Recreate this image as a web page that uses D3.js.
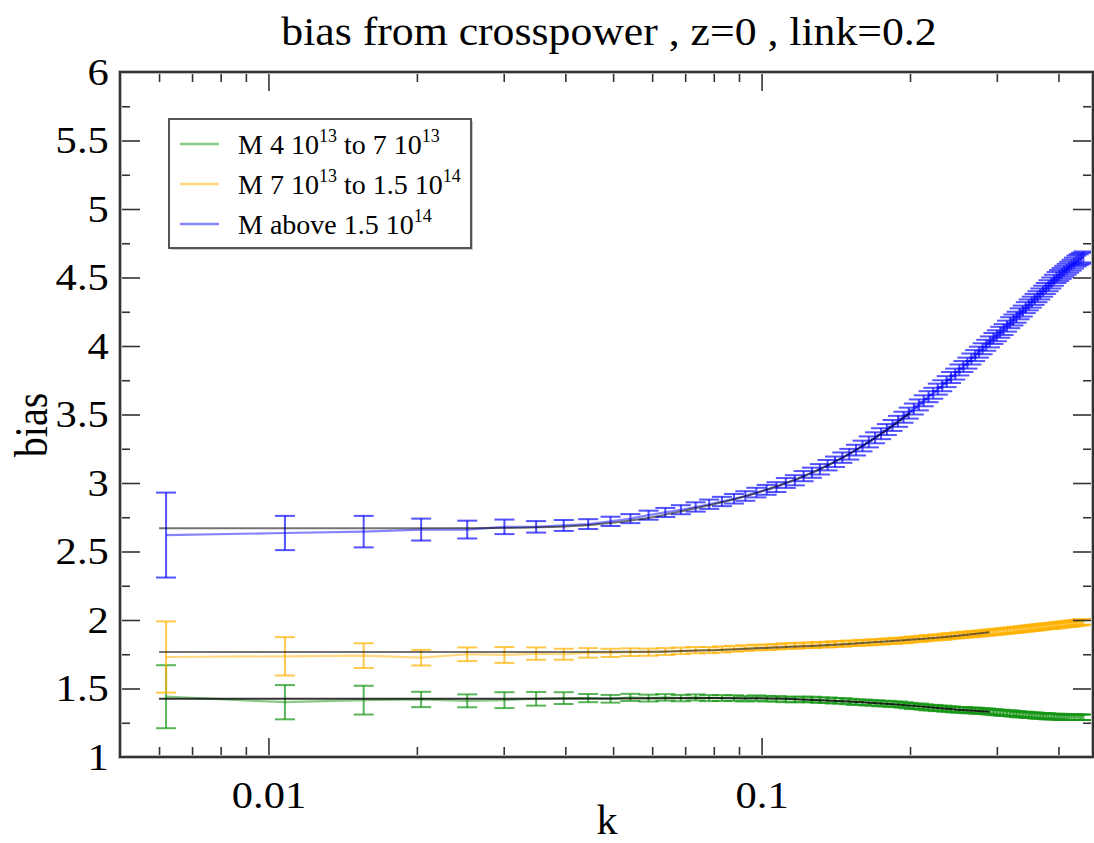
<!DOCTYPE html>
<html>
<head>
<meta charset="utf-8">
<script src="https://cdn.jsdelivr.net/npm/d3@7"></script>
<style>
  html, body { margin: 0; padding: 0; background: #fff; }
  svg { display: block; }
  text { font-family: "Liberation Serif", "DejaVu Serif", serif; fill: #000; }
</style>
</head>
<body>
<svg id="chart" width="1094" height="843"></svg>
<script>
// ---------------- data ----------------
const kValues = [0.0062,0.0108,0.0156,0.0204,0.0253,0.0301,0.0349,0.0397,0.0445,0.0494,
  0.0542,0.0590,0.0638,0.0686,0.0735,0.0783,0.0831,0.0879,0.0927,0.0976,
  0.1024,0.1072,0.1120,0.1168,0.1217,0.1265,0.1313,0.1361,0.1409,0.1458,
  0.1506,0.1554,0.1602,0.1650,0.1699,0.1747,0.1795,0.1843,0.1891,0.1940,
  0.1988,0.2036,0.2084,0.2132,0.2181,0.2229,0.2277,0.2325,0.2373,0.2422,
  0.2470,0.2518,0.2566,0.2614,0.2663,0.2711,0.2759,0.2807,0.2855,0.2904,
  0.2952,0.3000,0.3048,0.3096,0.3145,0.3193,0.3241,0.3289,0.3337,0.3386,
  0.3434,0.3482,0.3530,0.3578,0.3627,0.3675,0.3723,0.3771,0.3819,0.3868,
  0.3916,0.3964,0.4012,0.4060,0.4109,0.4157,0.4205,0.4253,0.4301,0.4350,
  0.4398,0.4446,0.4494];

const biasGreen = [1.44,1.40,1.415,1.42,1.41,1.415,1.425,1.43,1.43,1.425,
  1.435,1.43,1.435,1.43,1.435,1.43,1.43,1.43,1.425,1.43,
  1.425,1.425,1.42,1.42,1.42,1.42,1.415,1.415,1.41,1.41,
  1.405,1.40,1.40,1.395,1.395,1.39,1.39,1.385,1.385,1.38,
  1.375,1.37,1.37,1.365,1.36,1.36,1.355,1.355,1.35,1.35,
  1.345,1.345,1.345,1.34,1.34,1.34,1.335,1.335,1.335,1.33,
  1.33,1.325,1.325,1.32,1.32,1.32,1.315,1.315,1.31,1.31,
  1.31,1.305,1.305,1.305,1.30,1.30,1.30,1.30,1.295,1.295,
  1.295,1.295,1.295,1.29,1.29,1.29,1.29,1.29,1.29,1.29,
  1.29,1.29,1.29];
const errGreen = [0.23,0.125,0.105,0.056,0.047,0.058,0.05,0.043,0.03,0.028,
  0.026,0.025,0.024,0.023,0.022,0.022,0.021,0.021,0.02,0.02,
  0.02,0.02,0.02,0.02,0.02,0.02,0.02,0.02,0.02,0.02,
  0.02,0.02,0.02,0.02,0.02,0.02,0.02,0.02,0.02,0.02,
  0.02,0.02,0.02,0.02,0.02,0.02,0.02,0.02,0.02,0.02,
  0.02,0.02,0.02,0.02,0.02,0.02,0.02,0.02,0.02,0.02,
  0.02,0.02,0.02,0.02,0.02,0.02,0.02,0.02,0.02,0.02,
  0.02,0.02,0.02,0.02,0.02,0.02,0.02,0.02,0.02,0.02,
  0.02,0.02,0.02,0.02,0.02,0.02,0.02,0.02,0.02,0.02,
  0.02,0.02,0.02];

const biasOrange = [1.73,1.735,1.74,1.725,1.75,1.745,1.755,1.75,1.76,1.76,
  1.765,1.765,1.77,1.775,1.78,1.78,1.785,1.79,1.795,1.80,
  1.80,1.805,1.81,1.81,1.815,1.815,1.82,1.82,1.825,1.825,
  1.83,1.83,1.835,1.835,1.84,1.84,1.845,1.845,1.85,1.85,
  1.855,1.86,1.86,1.865,1.87,1.87,1.875,1.875,1.88,1.885,
  1.885,1.89,1.89,1.895,1.895,1.90,1.90,1.905,1.905,1.91,
  1.91,1.915,1.915,1.92,1.92,1.925,1.925,1.93,1.93,1.935,
  1.935,1.94,1.94,1.945,1.945,1.95,1.95,1.955,1.955,1.955,
  1.96,1.96,1.965,1.965,1.97,1.97,1.97,1.975,1.975,1.98,
  1.98,1.985,1.985];
const errOrange = [0.26,0.14,0.09,0.057,0.05,0.058,0.045,0.04,0.035,0.03,
  0.028,0.026,0.025,0.024,0.023,0.022,0.022,0.021,0.021,0.02,
  0.02,0.02,0.02,0.02,0.02,0.02,0.02,0.02,0.02,0.02,
  0.02,0.02,0.02,0.02,0.02,0.02,0.02,0.02,0.02,0.02,
  0.02,0.02,0.02,0.02,0.02,0.02,0.02,0.02,0.02,0.02,
  0.02,0.02,0.02,0.02,0.02,0.02,0.02,0.02,0.02,0.02,
  0.02,0.02,0.02,0.02,0.02,0.02,0.02,0.02,0.02,0.02,
  0.02,0.02,0.02,0.02,0.02,0.02,0.02,0.02,0.02,0.02,
  0.02,0.02,0.02,0.02,0.02,0.02,0.02,0.02,0.02,0.02,
  0.02,0.02,0.02];

const biasBlue = [2.62,2.635,2.645,2.66,2.66,2.68,2.68,2.69,2.70,2.72,
  2.74,2.765,2.785,2.805,2.825,2.845,2.865,2.885,2.905,2.93,
  2.95,2.97,3.00,3.02,3.05,3.075,3.10,3.13,3.155,3.185,
  3.21,3.24,3.27,3.30,3.33,3.36,3.39,3.42,3.45,3.48,
  3.51,3.54,3.57,3.60,3.63,3.655,3.685,3.71,3.74,3.77,
  3.795,3.825,3.85,3.875,3.905,3.93,3.955,3.98,4.005,4.03,
  4.055,4.075,4.10,4.12,4.145,4.17,4.19,4.21,4.235,4.255,
  4.28,4.30,4.32,4.34,4.36,4.38,4.40,4.42,4.44,4.46,
  4.48,4.50,4.515,4.53,4.545,4.56,4.575,4.59,4.605,4.62,
  4.63,4.64,4.65];
const errBlue = [0.31,0.125,0.115,0.08,0.065,0.053,0.042,0.04,0.036,0.034,
  0.033,0.033,0.033,0.033,0.034,0.034,0.034,0.035,0.035,0.035,
  0.036,0.036,0.036,0.037,0.037,0.037,0.038,0.038,0.038,0.038,
  0.039,0.039,0.039,0.04,0.04,0.04,0.04,0.04,0.04,0.04,
  0.04,0.04,0.04,0.04,0.04,0.04,0.04,0.04,0.04,0.04,
  0.04,0.04,0.04,0.04,0.04,0.04,0.04,0.04,0.04,0.04,
  0.04,0.04,0.04,0.04,0.04,0.04,0.04,0.04,0.04,0.04,
  0.04,0.04,0.04,0.04,0.04,0.04,0.04,0.04,0.04,0.04,
  0.04,0.04,0.04,0.04,0.04,0.04,0.04,0.04,0.04,0.04,
  0.04,0.04,0.04];

// fitted (model) curves
const fitKGreen = [0.006,0.02,0.05,0.08,0.1,0.12,0.15,0.2,0.25,0.29];
const fitGreen  = [1.425,1.425,1.427,1.43,1.428,1.42,1.405,1.375,1.345,1.33];
const fitKOrange = [0.006,0.02,0.04,0.06,0.08,0.1,0.15,0.2,0.25,0.29];
const fitOrange  = [1.766,1.766,1.766,1.768,1.78,1.795,1.825,1.855,1.885,1.91];
const fitKBlue = [0.006,0.02,0.03,0.04,0.05,0.06,0.07,0.08,0.09,0.1,0.12,0.14,0.16,0.18,0.2];
const fitBlue  = [2.67,2.67,2.672,2.682,2.71,2.75,2.80,2.845,2.89,2.94,3.04,3.15,3.27,3.39,3.51];

const seriesNames = ["M 4 10|13| to 7 10|13", "M 7 10|13| to 1.5 10|14", "M above 1.5 10|14"];

const xMajorTicks = [0.01, 0.1];
const xMinorTicks = [0.006,0.007,0.008,0.009,0.02,0.03,0.04,0.05,0.06,0.07,0.08,0.09,0.2,0.3,0.4];
const yMajorTicks = [1,1.5,2,2.5,3,3.5,4,4.5,5,5.5,6];
const yMinorTicks = [1.25,1.75,2.25,2.75,3.25,3.75,4.25,4.75,5.25,5.75];

const titleText = "bias from crosspower , z=0 , link=0.2";
const xLabel = "k";
const yLabel = "bias";

// ---------------- layout ----------------
const L = 120, R = 1093, T = 72, B = 757;
const svg = d3.select("#chart");
const x = d3.scaleLog().domain([0.005, 0.47]).range([L, R]);
const y = d3.scaleLinear().domain([1, 6]).range([B, T]);

const colors = ["rgb(20,150,20)", "rgb(255,178,0)", "rgb(10,10,255)"];

const series = [
  {k: kValues, v: biasGreen, e: errGreen, fk: fitKGreen, fv: fitGreen, fitOp: 0.8},
  {k: kValues, v: biasOrange, e: errOrange, fk: fitKOrange, fv: fitOrange, fitOp: 0.55},
  {k: kValues, v: biasBlue, e: errBlue, fk: fitKBlue, fv: fitBlue, fitOp: 0.55}
];

svg.append("defs").append("clipPath").attr("id", "clip")
  .append("rect").attr("x", L).attr("y", T).attr("width", R - L).attr("height", B - T);

const plot = svg.append("g").attr("clip-path", "url(#clip)");

const line = d3.line().x(d => x(d[0])).y(d => y(d[1]));
const fitLine = d3.line().x(d => x(d[0])).y(d => y(d[1])).curve(d3.curveMonotoneX);

series.forEach((s, i) => {
  const pts = s.k.map((k, j) => [k, s.v[j], s.e[j]]);
  const g = plot.append("g");
  g.append("path").datum(pts).attr("d", line)
    .attr("fill", "none").attr("stroke", colors[i]).attr("stroke-width", 2.2).attr("stroke-opacity", 0.5);
  const eb = g.selectAll("g.eb").data(pts).enter().append("g")
    .attr("stroke", colors[i]).attr("stroke-width", 2).attr("stroke-opacity", 0.7);
  eb.append("line").attr("x1", d => x(d[0])).attr("x2", d => x(d[0]))
    .attr("y1", d => y(d[1] - d[2])).attr("y2", d => y(d[1] + d[2]));
  eb.append("line").attr("x1", d => x(d[0]) - 10).attr("x2", d => x(d[0]) + 10)
    .attr("y1", d => y(d[1] + d[2])).attr("y2", d => y(d[1] + d[2]));
  eb.append("line").attr("x1", d => x(d[0]) - 10).attr("x2", d => x(d[0]) + 10)
    .attr("y1", d => y(d[1] - d[2])).attr("y2", d => y(d[1] - d[2]));
});

series.forEach((s) => {
  const fp = s.fk.map((k, j) => [k, s.fv[j]]);
  plot.append("path").datum(fp).attr("d", fitLine)
    .attr("fill", "none").attr("stroke", "#000").attr("stroke-width", 2).attr("stroke-opacity", s.fitOp);
});

// ---------------- axes ----------------
const axisColor = "#333";
function styleAxis(g) {
  g.select(".domain").remove();
  g.selectAll(".tick line").attr("stroke", axisColor).attr("stroke-width", 1.6);
  g.selectAll(".tick text").attr("font-family", "Liberation Serif, serif").attr("fill", "#000");
}
svg.append("g").attr("transform", `translate(0,${B})`)
  .call(d3.axisBottom(x).tickValues(xMajorTicks).tickSize(-19).tickPadding(24).tickFormat(d3.format("")))
  .call(styleAxis).call(g => g.selectAll(".tick text").attr("font-size", 38).attr("transform", "scale(1.12,1)"));
svg.append("g").attr("transform", `translate(0,${B})`)
  .call(d3.axisBottom(x).tickValues(xMinorTicks).tickSize(-10).tickFormat(""))
  .call(styleAxis);
svg.append("g").attr("transform", `translate(0,${T})`)
  .call(d3.axisTop(x).tickValues(xMajorTicks).tickSize(-19).tickFormat(""))
  .call(styleAxis);
svg.append("g").attr("transform", `translate(0,${T})`)
  .call(d3.axisTop(x).tickValues(xMinorTicks).tickSize(-10).tickFormat(""))
  .call(styleAxis);
svg.append("g").attr("transform", `translate(${L},0)`)
  .call(d3.axisLeft(y).tickValues(yMajorTicks).tickSize(-20).tickPadding(10).tickFormat(d3.format("")))
  .call(styleAxis).call(g => g.selectAll(".tick text").attr("font-size", 38).attr("transform", "scale(1.12,1)"));
svg.append("g").attr("transform", `translate(${L},0)`)
  .call(d3.axisLeft(y).tickValues(yMinorTicks).tickSize(-10).tickFormat(""))
  .call(styleAxis);
svg.append("g").attr("transform", `translate(${R},0)`)
  .call(d3.axisRight(y).tickValues(yMajorTicks).tickSize(-20).tickFormat(""))
  .call(styleAxis);
svg.append("g").attr("transform", `translate(${R},0)`)
  .call(d3.axisRight(y).tickValues(yMinorTicks).tickSize(-10).tickFormat(""))
  .call(styleAxis);

// frame
svg.append("rect").attr("x", L).attr("y", T).attr("width", R - L).attr("height", B - T)
  .attr("fill", "none").attr("stroke", "#bbb").attr("stroke-width", 4);
svg.append("rect").attr("x", L).attr("y", T).attr("width", R - L).attr("height", B - T)
  .attr("fill", "none").attr("stroke", "#333").attr("stroke-width", 2);

// titles
svg.append("text").attr("transform", "translate(609,45) scale(1.08,1)").attr("text-anchor", "middle")
  .attr("font-size", 40.5).text(titleText);
svg.append("text").attr("x", 607).attr("y", 834).attr("text-anchor", "middle")
  .attr("font-size", 42).text(xLabel);
svg.append("text").attr("transform", "translate(47,425) scale(1.15,1) rotate(-90)").attr("text-anchor", "middle")
  .attr("font-size", 40).text(yLabel);

// ---------------- legend ----------------
const lg = svg.append("g");
lg.append("rect").attr("x", 171).attr("y", 121).attr("width", 302).attr("height", 129)
  .attr("fill", "#ccc").attr("stroke", "none");
lg.append("rect").attr("x", 169).attr("y", 119).attr("width", 302).attr("height", 129)
  .attr("fill", "#fff").attr("stroke", "#555").attr("stroke-width", 2);
seriesNames.forEach((name, i) => {
  const yy = 144 + i * 40;
  lg.append("line").attr("x1", 180).attr("x2", 219).attr("y1", yy).attr("y2", yy)
    .attr("stroke", colors[i]).attr("stroke-width", 2.4).attr("stroke-opacity", 0.5);
  const t = lg.append("text").attr("x", 238).attr("y", yy + 10).attr("font-size", 28);
  const parts = name.split("|");
  let lift = 0;
  parts.forEach((p, j) => {
    if (j % 2 === 1) {
      t.append("tspan").attr("dy", -12).attr("font-size", 18).text(p);
      lift = 12;
    } else {
      t.append("tspan").attr("dy", lift).text(p);
      lift = 0;
    }
  });
});
</script>
</body>
</html>
